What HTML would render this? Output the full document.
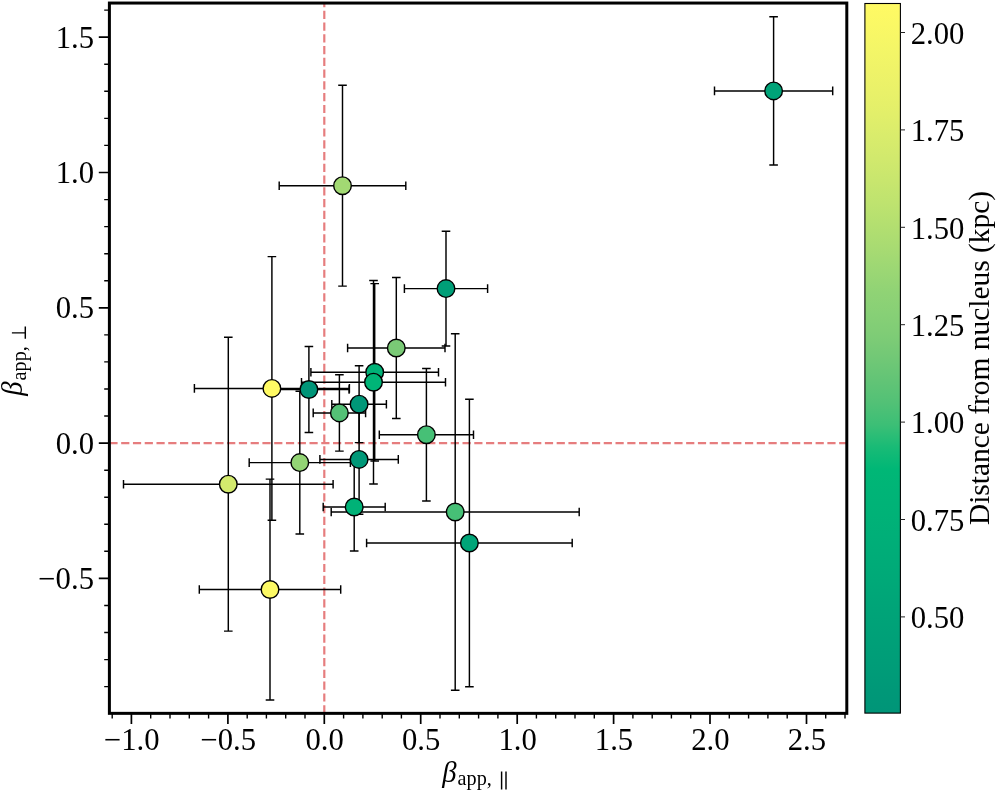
<!DOCTYPE html>
<html><head><meta charset="utf-8"><title>beta_app</title>
<style>
html,body{margin:0;padding:0;background:#fff;}
svg{display:block;will-change:transform;}
text{font-family:"Liberation Serif",serif;fill:#000;}
</style></head><body>
<svg width="997" height="792" viewBox="0 0 997 792">
<rect x="0" y="0" width="997" height="792" fill="#fff"/>
<g stroke="#e67d7e" stroke-width="2.2" stroke-dasharray="8.2 3.57" fill="none">
<line x1="324.3" y1="713.35" x2="324.3" y2="3.05"/>
<line x1="109.4" y1="443.1" x2="846.8" y2="443.1"/>
</g>
<g stroke="#000" stroke-width="1.45" fill="none">
<path d="M714.5 90.9H832.7M773.6 16.8V165.0M714.5 86.6V95.2M832.7 86.6V95.2M769.3 16.8H777.9M769.3 165.0H777.9"/>
<path d="M279.2 185.7H405.8M342.5 85.3V286.1M279.2 181.4V190.0M405.8 181.4V190.0M338.2 85.3H346.8M338.2 286.1H346.8"/>
<path d="M404.4 288.6H487.6M446.0 231.2V346.0M404.4 284.3V292.9M487.6 284.3V292.9M441.7 231.2H450.3M441.7 346.0H450.3"/>
<path d="M347.6 348.0H445.0M396.3 277.5V418.5M347.6 343.7V352.3M445.0 343.7V352.3M392.0 277.5H400.6M392.0 418.5H400.6"/>
<path d="M310.9 372.3H438.5M374.7 283.6V461.0M310.9 368.0V376.6M438.5 368.0V376.6M370.4 283.6H379.0M370.4 461.0H379.0"/>
<path d="M301.5 382.2H445.5M373.5 280.4V484.0M301.5 377.9V386.5M445.5 377.9V386.5M369.2 280.4H377.8M369.2 484.0H377.8"/>
<path d="M194.4 388.4H349.4M271.9 256.6V520.2M194.4 384.1V392.7M349.4 384.1V392.7M267.6 256.6H276.2M267.6 520.2H276.2"/>
<path d="M268.7 389.5H349.1M308.9 346.5V432.5M268.7 385.2V393.8M349.1 385.2V393.8M304.6 346.5H313.2M304.6 432.5H313.2"/>
<path d="M331.8 404.2H386.4M359.1 365.8V442.6M331.8 399.9V408.5M386.4 399.9V408.5M354.8 365.8H363.4M354.8 442.6H363.4"/>
<path d="M313.2 412.9H365.6M339.4 374.7V451.1M313.2 408.6V417.2M365.6 408.6V417.2M335.1 374.7H343.7M335.1 451.1H343.7"/>
<path d="M379.3 434.7H473.5M426.4 368.5V500.9M379.3 430.4V439.0M473.5 430.4V439.0M422.1 368.5H430.7M422.1 500.9H430.7"/>
<path d="M249.2 462.6H350.4M299.8 391.3V533.9M249.2 458.3V466.9M350.4 458.3V466.9M295.5 391.3H304.1M295.5 533.9H304.1"/>
<path d="M319.9 459.4H398.3M359.1 404.6V514.2M319.9 455.1V463.7M398.3 455.1V463.7M354.8 404.6H363.4M354.8 514.2H363.4"/>
<path d="M123.5 484.2H333.1M228.3 337.3V631.1M123.5 479.9V488.5M333.1 479.9V488.5M224.0 337.3H232.6M224.0 631.1H232.6"/>
<path d="M323.2 507.0H385.2M354.2 463.0V551.0M323.2 502.7V511.3M385.2 502.7V511.3M349.9 463.0H358.5M349.9 551.0H358.5"/>
<path d="M331.2 512.0H579.2M455.2 333.8V690.2M331.2 507.7V516.3M579.2 507.7V516.3M450.9 333.8H459.5M450.9 690.2H459.5"/>
<path d="M366.6 543.0H572.2M469.4 399.3V686.7M366.6 538.7V547.3M572.2 538.7V547.3M465.1 399.3H473.7M465.1 686.7H473.7"/>
<path d="M199.3 589.5H340.7M270.0 479.1V699.9M199.3 585.2V593.8M340.7 585.2V593.8M265.7 479.1H274.3M265.7 699.9H274.3"/>
</g>
<g stroke="#000" stroke-width="1.4">
<circle cx="773.6" cy="90.9" r="8.8" fill="rgb(0,163,120)"/>
<circle cx="342.5" cy="185.7" r="8.8" fill="rgb(162,217,115)"/>
<circle cx="446.0" cy="288.6" r="8.8" fill="rgb(0,159,120)"/>
<circle cx="396.3" cy="348.0" r="8.8" fill="rgb(122,202,118)"/>
<circle cx="374.7" cy="372.3" r="8.8" fill="rgb(0,178,119)"/>
<circle cx="373.5" cy="382.2" r="8.8" fill="rgb(0,181,119)"/>
<circle cx="271.9" cy="388.4" r="8.8" fill="rgb(255,250,100)"/>
<circle cx="308.9" cy="389.5" r="8.8" fill="rgb(0,149,120)"/>
<circle cx="359.1" cy="404.2" r="8.8" fill="rgb(0,151,120)"/>
<circle cx="339.4" cy="412.9" r="8.8" fill="rgb(84,193,118)"/>
<circle cx="426.4" cy="434.7" r="8.8" fill="rgb(70,192,118)"/>
<circle cx="299.8" cy="462.6" r="8.8" fill="rgb(147,212,117)"/>
<circle cx="359.1" cy="459.4" r="8.8" fill="rgb(0,152,120)"/>
<circle cx="228.3" cy="484.2" r="8.8" fill="rgb(211,234,109)"/>
<circle cx="354.2" cy="507.0" r="8.8" fill="rgb(0,178,119)"/>
<circle cx="455.2" cy="512.0" r="8.8" fill="rgb(70,192,118)"/>
<circle cx="469.4" cy="543.0" r="8.8" fill="rgb(0,165,120)"/>
<circle cx="270.0" cy="589.5" r="8.8" fill="rgb(252,249,101)"/>
</g>
<g stroke="#000" fill="none">
<path d="M131.4 713.35V723.9M227.9 713.35V723.9M324.3 713.35V723.9M420.7 713.35V723.9M517.2 713.35V723.9M613.6 713.35V723.9M710.0 713.35V723.9M806.5 713.35V723.9M109.4 578.4H98.8M109.4 443.1H98.8M109.4 307.8H98.8M109.4 172.5H98.8M109.4 37.2H98.8" stroke-width="1.7"/>
<path d="M112.2 713.35V718.5M150.7 713.35V718.5M170.0 713.35V718.5M189.3 713.35V718.5M208.6 713.35V718.5M247.2 713.35V718.5M266.4 713.35V718.5M285.7 713.35V718.5M305.0 713.35V718.5M343.6 713.35V718.5M362.9 713.35V718.5M382.2 713.35V718.5M401.4 713.35V718.5M440.0 713.35V718.5M459.3 713.35V718.5M478.6 713.35V718.5M497.9 713.35V718.5M536.4 713.35V718.5M555.7 713.35V718.5M575.0 713.35V718.5M594.3 713.35V718.5M632.9 713.35V718.5M652.2 713.35V718.5M671.4 713.35V718.5M690.7 713.35V718.5M729.3 713.35V718.5M748.6 713.35V718.5M767.9 713.35V718.5M787.2 713.35V718.5M825.7 713.35V718.5M845.0 713.35V718.5M109.4 686.6H104.2M109.4 659.6H104.2M109.4 632.5H104.2M109.4 605.5H104.2M109.4 551.3H104.2M109.4 524.3H104.2M109.4 497.2H104.2M109.4 470.2H104.2M109.4 416.0H104.2M109.4 389.0H104.2M109.4 361.9H104.2M109.4 334.9H104.2M109.4 280.7H104.2M109.4 253.7H104.2M109.4 226.6H104.2M109.4 199.6H104.2M109.4 145.4H104.2M109.4 118.4H104.2M109.4 91.3H104.2M109.4 64.3H104.2M109.4 10.1H104.2" stroke-width="1.4"/>
</g>
<rect x="109.4" y="3.05" width="737.4" height="710.3" fill="none" stroke="#000" stroke-width="3.0"/>
<g font-size="30.7">
<text transform="translate(131.8,749.5) scale(1,1.03)" text-anchor="middle">−1.0</text>
<text transform="translate(228.3,749.5) scale(1,1.03)" text-anchor="middle">−0.5</text>
<text transform="translate(324.7,749.5) scale(1,1.03)" text-anchor="middle">0.0</text>
<text transform="translate(421.1,749.5) scale(1,1.03)" text-anchor="middle">0.5</text>
<text transform="translate(517.6,749.5) scale(1,1.03)" text-anchor="middle">1.0</text>
<text transform="translate(614.0,749.5) scale(1,1.03)" text-anchor="middle">1.5</text>
<text transform="translate(710.4,749.5) scale(1,1.03)" text-anchor="middle">2.0</text>
<text transform="translate(806.9,749.5) scale(1,1.03)" text-anchor="middle">2.5</text>
<text transform="translate(94.0,588.8) scale(1,1.03)" text-anchor="end">−0.5</text>
<text transform="translate(94.0,453.5) scale(1,1.03)" text-anchor="end">0.0</text>
<text transform="translate(94.0,318.2) scale(1,1.03)" text-anchor="end">0.5</text>
<text transform="translate(94.0,182.9) scale(1,1.03)" text-anchor="end">1.0</text>
<text transform="translate(94.0,47.6) scale(1,1.03)" text-anchor="end">1.5</text>
</g>
<defs><linearGradient id="cb" x1="0" y1="0" x2="0" y2="1"><stop offset="0.0000" stop-color="rgb(255,250,100)"/><stop offset="0.0312" stop-color="rgb(250,248,101)"/><stop offset="0.0625" stop-color="rgb(244,246,103)"/><stop offset="0.0938" stop-color="rgb(239,243,104)"/><stop offset="0.1250" stop-color="rgb(233,241,105)"/><stop offset="0.1562" stop-color="rgb(226,239,106)"/><stop offset="0.1875" stop-color="rgb(217,236,108)"/><stop offset="0.2188" stop-color="rgb(209,233,109)"/><stop offset="0.2500" stop-color="rgb(200,230,110)"/><stop offset="0.2812" stop-color="rgb(190,227,111)"/><stop offset="0.3125" stop-color="rgb(179,223,112)"/><stop offset="0.3438" stop-color="rgb(168,219,114)"/><stop offset="0.3750" stop-color="rgb(156,215,116)"/><stop offset="0.4062" stop-color="rgb(144,211,117)"/><stop offset="0.4375" stop-color="rgb(135,208,118)"/><stop offset="0.4688" stop-color="rgb(126,204,118)"/><stop offset="0.5000" stop-color="rgb(113,200,118)"/><stop offset="0.5312" stop-color="rgb(98,196,118)"/><stop offset="0.5625" stop-color="rgb(82,193,118)"/><stop offset="0.5938" stop-color="rgb(60,191,118)"/><stop offset="0.6250" stop-color="rgb(25,187,118)"/><stop offset="0.6562" stop-color="rgb(0,183,118)"/><stop offset="0.6875" stop-color="rgb(0,180,119)"/><stop offset="0.7188" stop-color="rgb(0,178,119)"/><stop offset="0.7500" stop-color="rgb(0,175,120)"/><stop offset="0.7812" stop-color="rgb(0,172,120)"/><stop offset="0.8125" stop-color="rgb(0,169,120)"/><stop offset="0.8438" stop-color="rgb(0,165,120)"/><stop offset="0.8750" stop-color="rgb(0,162,120)"/><stop offset="0.9062" stop-color="rgb(0,159,120)"/><stop offset="0.9375" stop-color="rgb(0,156,120)"/><stop offset="0.9688" stop-color="rgb(0,152,120)"/><stop offset="1.0000" stop-color="rgb(0,149,120)"/></linearGradient></defs>
<rect x="864.9" y="3.5" width="35.5" height="709.6" fill="url(#cb)" stroke="#000" stroke-width="1.1"/>
<g font-size="30.7">
<text transform="translate(910.7,43.7) scale(1,1.03)">2.00</text>
<text transform="translate(910.7,141.1) scale(1,1.03)">1.75</text>
<text transform="translate(910.7,238.5) scale(1,1.03)">1.50</text>
<text transform="translate(910.7,335.9) scale(1,1.03)">1.25</text>
<text transform="translate(910.7,433.3) scale(1,1.03)">1.00</text>
<text transform="translate(910.7,530.7) scale(1,1.03)">0.75</text>
<text transform="translate(910.7,628.1) scale(1,1.03)">0.50</text>
</g>
<path d="M900.4 32.5H905.0M900.4 129.9H905.0M900.4 227.3H905.0M900.4 324.7H905.0M900.4 422.1H905.0M900.4 519.5H905.0M900.4 616.9H905.0" stroke="#222" stroke-width="1.0" fill="none"/>
<text font-size="29.45" transform="translate(988.6,358) rotate(-90) scale(1,1.03)" text-anchor="middle">Distance from nucleus (kpc)</text>
<g>
<text x="442.3" y="781.6" font-size="28.7" font-style="italic">β</text>
<text x="457.6" y="785.3" font-size="20.2">app,</text>
<path d="M501.6 771.5V789.5M506 771.5V789.5" stroke="#000" stroke-width="1.45" fill="none"/>
</g>
<g transform="translate(21.7,395.8) rotate(-90)">
<text x="0" y="0" font-size="28.7" font-style="italic">β</text>
<text x="15.4" y="4.2" font-size="20.2">app,</text>
<path d="M57.1 3.6H69.2M62.9 3.6V-9.8" stroke="#000" stroke-width="1.45" fill="none"/>
</g>
</svg>
</body></html>
